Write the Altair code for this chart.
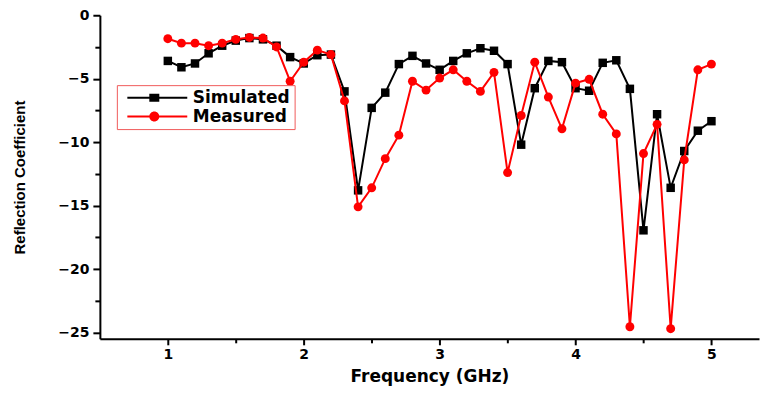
import altair as alt
import pandas as pd

freq = [1.0, 1.1, 1.2, 1.3, 1.4, 1.5, 1.6, 1.7, 1.8, 1.9,
        2.0, 2.1, 2.2, 2.3, 2.4, 2.5, 2.6, 2.7, 2.8, 2.9,
        3.0, 3.1, 3.2, 3.3, 3.4, 3.5, 3.6, 3.7, 3.8, 3.9,
        4.0, 4.1, 4.2, 4.3, 4.4, 4.5, 4.6, 4.7, 4.8, 4.9, 5.0]

simulated = [-3.6, -4.1, -3.8, -3.0, -2.4, -2.0, -1.8, -1.9, -2.4, -3.3,
             -3.8, -3.15, -3.1, -6.0, -13.8, -7.3, -6.1, -3.85, -3.2, -3.8,
             -4.3, -3.6, -3.0, -2.6, -2.8, -3.85, -10.2, -5.75, -3.6, -3.7,
             -5.75, -5.95, -3.75, -3.55, -5.8, -16.95, -7.8, -13.6, -10.7, -9.1, -8.35]

measured = [-1.85, -2.2, -2.2, -2.4, -2.2, -1.9, -1.75, -1.8, -2.5, -5.2,
            -3.7, -2.75, -3.1, -6.75, -15.1, -13.6, -11.3, -9.45, -5.2, -5.9,
            -4.95, -4.3, -5.2, -6.0, -4.5, -12.4, -7.9, -3.7, -6.45, -8.95,
            -5.35, -5.05, -7.8, -9.35, -24.55, -10.9, -8.6, -24.7, -11.4, -4.3, -3.85]

series_names = ["Simulated", "Measured"]
series_colors = ["#000000", "#ff0000"]
x_ticks = [1, 1.5, 2, 2.5, 3, 3.5, 4, 4.5, 5]
y_ticks = [0, -2.5, -5, -7.5, -10, -12.5, -15, -17.5, -20, -22.5, -25]

df = pd.DataFrame({
    "freq": freq * 2,
    "value": simulated + measured,
    "series": ["Simulated"] * len(freq) + ["Measured"] * len(freq),
})

# legend symbols: a short line with the marker in the middle
sym_square = "M-0.25,-0.125H7.25V0.125H-0.25Z M2.5,-0.5H3.75V0.5H2.5Z"
sym_circle = "M-0.25,-0.125H7.25V0.125H-0.25Z M2.5,0A0.625,0.625 0 1,1 3.75,0A0.625,0.625 0 1,1 2.5,0Z"

x_enc = alt.X(
    "freq:Q",
    scale=alt.Scale(domain=[0.5, 5.35], nice=False, zero=False),
    axis=alt.Axis(
        values=x_ticks,
        labelExpr="datum.value % 1 == 0 ? format(datum.value, 'd') : ''",
        tickSize={"condition": {"test": "datum.value % 1 == 0", "value": 6}, "value": 4},
        title="Frequency (GHz)",
        labelPadding=3,
        titlePadding=7,
        titleFont="DejaVu Sans",
        titleFontSize=17,
    ),
)
y_enc = alt.Y(
    "value:Q",
    scale=alt.Scale(domain=[-25.5, 0], nice=False, zero=False),
    axis=alt.Axis(
        values=y_ticks,
        labelExpr="datum.value % 5 == 0 ? format(datum.value, 'd') : ''",
        tickSize={"condition": {"test": "datum.value % 5 == 0", "value": 7}, "value": 5},
        title="Reflection Coefficient",
        labelPadding=4,
        titlePadding=30,
        titleFont="Liberation Sans",
        titleFontSize=15,
    ),
)

base = alt.Chart(df)

legend_props = dict(
    title=None,
    orient="none",
    legendX=17,
    legendY=70,
    padding=4,
    rowPadding=1,
    strokeColor="#f05a5a",
    fillColor="white",
    symbolSize=256,
    symbolStrokeWidth=0,
    symbolOpacity=1,
    labelOffset=55,
    labelFont="DejaVu Sans",
    labelFontWeight="bold",
    labelFontSize=17,
    labelColor="black",
)

legend_layer = base.transform_filter("false").mark_point(filled=True, opacity=1).encode(
    x=x_enc,
    y=y_enc,
    fill=alt.Fill("series:N", scale=alt.Scale(domain=series_names, range=series_colors),
                  legend=alt.Legend(**legend_props)),
    shape=alt.Shape("series:N", scale=alt.Scale(domain=series_names, range=[sym_square, sym_circle]),
                    legend=alt.Legend(**legend_props)),
)

sim = base.transform_filter(alt.datum.series == "Simulated")
mea = base.transform_filter(alt.datum.series == "Measured")

sim_line = sim.mark_line(color=series_colors[0], strokeWidth=2).encode(x=x_enc, y=y_enc)
sim_pts = sim.mark_square(color=series_colors[0], size=72, opacity=1).encode(x=x_enc, y=y_enc)
mea_line = mea.mark_line(color=series_colors[1], strokeWidth=2).encode(x=x_enc, y=y_enc)
mea_pts = mea.mark_circle(color=series_colors[1], size=80, opacity=1).encode(x=x_enc, y=y_enc)

chart = alt.layer(legend_layer, sim_line, sim_pts, mea_line, mea_pts).properties(
    width=660,
    height=324,
    autosize=alt.AutoSizeParams(type="none"),
    padding={"left": 92, "top": 7, "right": 4, "bottom": 48},
).configure_view(stroke=None).configure_axis(
    grid=False,
    domainColor="black",
    domainWidth=2,
    tickColor="black",
    tickWidth=2,
    labelFont="DejaVu Sans",
    labelFontWeight="bold",
    labelFontSize=14,
    labelColor="black",
    titleFontWeight="bold",
    titleColor="black",
)

chart.save("out.html", embed_options={"renderer": "svg", "actions": False})
